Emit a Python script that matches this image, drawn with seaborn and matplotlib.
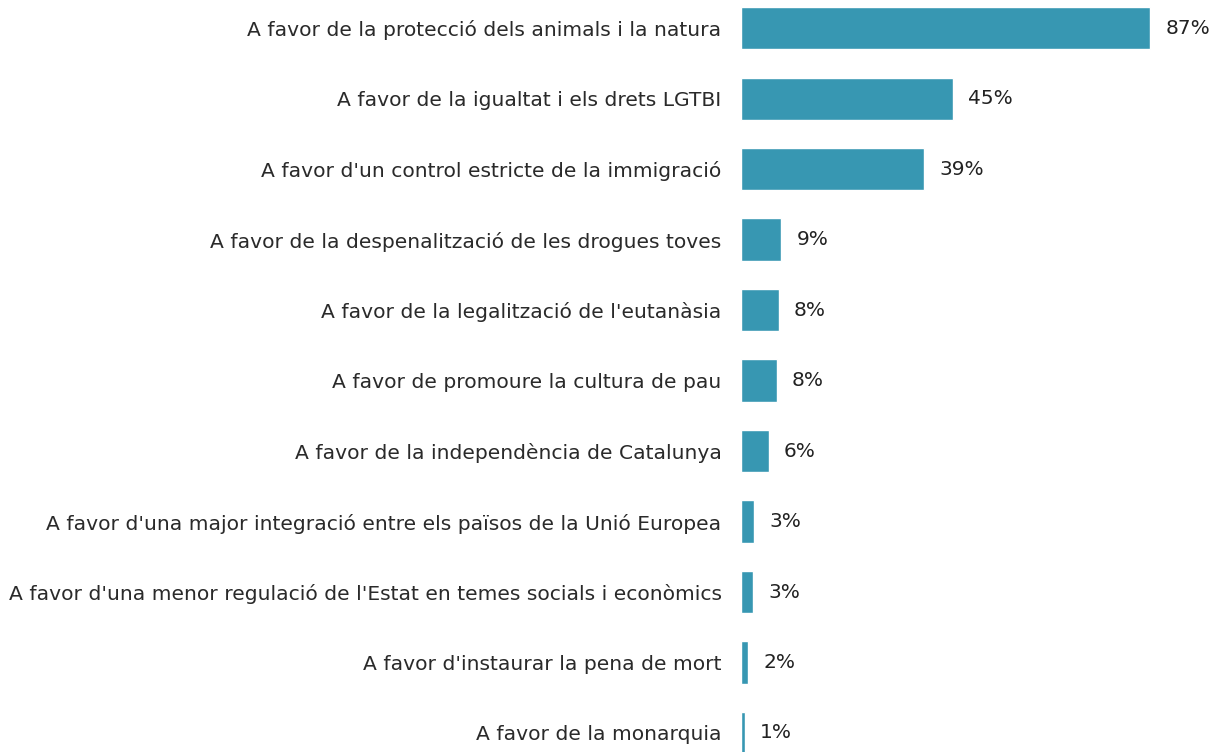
import matplotlib
matplotlib.use("Agg")
import matplotlib.pyplot as plt
import seaborn as sns
import pandas as pd

# Data
categories = [
    "A favor de la protecció dels animals i la natura",
    "A favor de la igualtat i els drets LGTBI",
    "A favor d'un control estricte de la immigració",
    "A favor de la despenalització de les drogues toves",
    "A favor de la legalització de l'eutanàsia",
    "A favor de promoure la cultura de pau",
    "A favor de la independència de Catalunya",
    "A favor d'una major integració entre els països de la Unió Europea",
    "A favor d'una menor regulació de l'Estat en temes socials i econòmics",
    "A favor d'instaurar la pena de mort",
    "A favor de la monarquia",
]
values = [87, 45, 39, 8.6, 8.0, 7.6, 5.9, 2.8, 2.5, 1.5, 0.8]
value_labels = ["87%", "45%", "39%", "9%", "8%", "8%", "6%", "3%", "3%", "2%", "1%"]

df = pd.DataFrame({"category": categories, "value": values})

sns.set_theme(style="white")
plt.rcParams["font.family"] = ["DejaVu Sans"]

fig = plt.figure(figsize=(12.11, 7.52), dpi=100)
ax = fig.add_axes([741 / 1211, 0, 1 - 741 / 1211, 1])

sns.barplot(data=df, x="value", y="category", order=categories,
            color="#3797B2", width=0.6, saturation=1, ax=ax)

for i, (v, lab) in enumerate(zip(values, value_labels)):
    ax.annotate(lab, (v, i), xytext=(11, 0), textcoords="offset points",
                va="center", ha="left", fontsize=14.5, color="#222222")

ax.set_xlim(0, 100)
ax.set_ylim(10.27, -0.40)
ax.set_xlabel("")
ax.set_ylabel("")
ax.set_xticks([])
ax.tick_params(axis="y", length=0, pad=14, labelsize=14.6, labelcolor="#2a2a2a")
sns.despine(ax=ax, left=True, bottom=True)

fig.savefig("out.png", dpi=100)
